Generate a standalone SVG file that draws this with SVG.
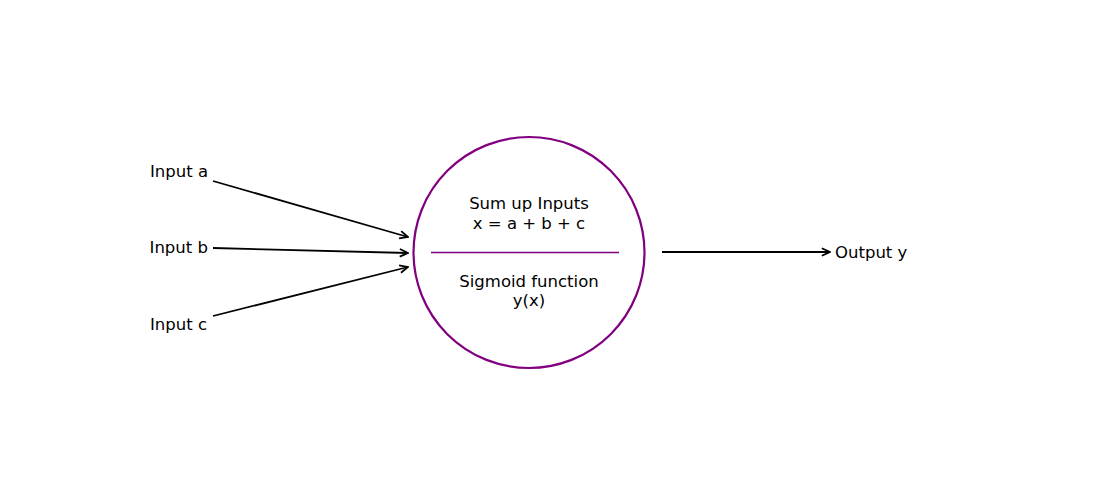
<svg xmlns="http://www.w3.org/2000/svg" width="1100" height="500" viewBox="0 0 1100 500">
<style>
text{font-family:"DejaVu Sans","Liberation Sans",sans-serif;font-size:16.5px;fill:#000}
.c{text-anchor:middle}
.e{text-anchor:end}
.arr{fill:none;stroke:#000;stroke-width:1.8}
</style>
<defs>
<marker id="ah" viewBox="0 0 10 10" refX="9.2" refY="5" markerWidth="10" markerHeight="10" markerUnits="userSpaceOnUse" orient="auto">
<path d="M1,1.2 L9.2,5 L1,8.8" fill="none" stroke="#000" stroke-width="1.8"/>
</marker>
</defs>
<rect width="1100" height="500" fill="#fff"/>
<g id="connectors">
<line class="arr" x1="213" y1="181" x2="408" y2="237" marker-end="url(#ah)"/>
<line class="arr" x1="213" y1="248" x2="408" y2="253" marker-end="url(#ah)"/>
<line class="arr" x1="213" y1="316" x2="408" y2="267" marker-end="url(#ah)"/>
<line class="arr" x1="662" y1="252" x2="830" y2="252" marker-end="url(#ah)"/>
</g>
<g id="neuron">
<circle cx="529" cy="252.5" r="115.5" fill="none" stroke="#800080" stroke-width="2.2"/>
<line x1="431" y1="252.5" x2="619" y2="252.5" stroke="#800080" stroke-width="1.6"/>
<text class="c" x="529" y="209">Sum up Inputs</text>
<text class="c" x="529" y="229">x = a + b + c</text>
<text class="c" x="529" y="287">Sigmoid function</text>
<text class="c" x="529" y="306">y(x)</text>
</g>
<g id="input-a"><text class="e" x="208" y="177">Input a</text></g>
<g id="input-b"><text class="e" x="208" y="253">Input b</text></g>
<g id="input-c"><text class="e" x="207" y="330">Input c</text></g>
<g id="output-y"><text x="835" y="258">Output y</text></g>
</svg>
